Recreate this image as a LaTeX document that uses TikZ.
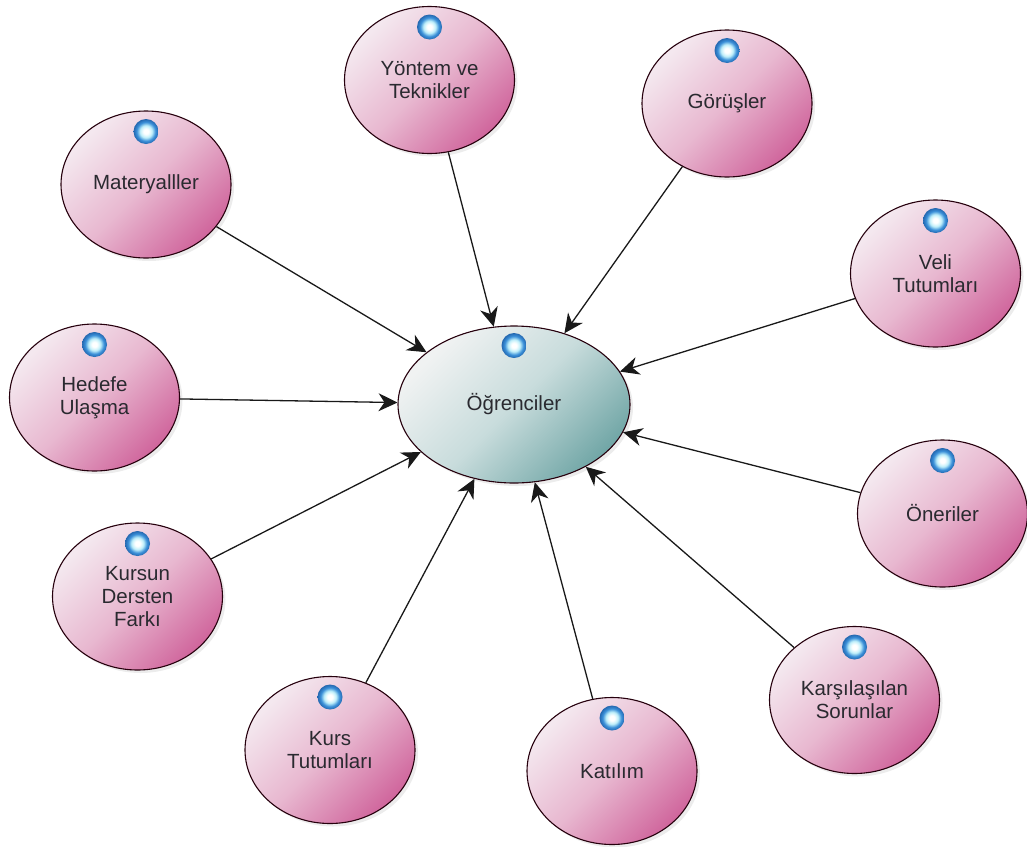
\documentclass[tikz,border=0pt]{standalone}
\usepackage{fontspec}
\setmainfont{Liberation Sans}
\usetikzlibrary{shapes.geometric,arrows.meta,shadows}
\definecolor{inkdark}{HTML}{2A2A30}
\definecolor{HTMLpA}{HTML}{F4E8EF}
\definecolor{HTMLpB}{HTML}{E8B8D0}
\definecolor{HTMLpC}{HTML}{CB5592}
\definecolor{HTMLtA}{HTML}{F0F2F2}
\definecolor{HTMLtB}{HTML}{C8DCDC}
\definecolor{HTMLtC}{HTML}{5A9898}
\definecolor{dotA}{HTML}{BFEFFA}
\definecolor{dotB}{HTML}{3A8FD8}
\definecolor{dotC}{HTML}{2468B0}
\pgfdeclarehorizontalshading{pinkgrad}{100bp}{color(0bp)=(HTMLpA);color(26bp)=(HTMLpA);color(50bp)=(HTMLpB);color(80bp)=(HTMLpC);color(100bp)=(HTMLpC)}
\pgfdeclarehorizontalshading{tealgrad}{100bp}{color(0bp)=(HTMLtA);color(26bp)=(HTMLtA);color(50bp)=(HTMLtB);color(82bp)=(HTMLtC);color(100bp)=(HTMLtC)}
\pgfdeclareradialshading{bluedot}{\pgfpoint{0bp}{0bp}}{color(0bp)=(white);color(5bp)=(white);color(12bp)=(dotA);color(19bp)=(dotB);color(25bp)=(dotC);color(50bp)=(dotC)}
\tikzset{
  x=1pt,y=-1pt,
  topic/.style={ellipse,draw=black!80!purple,line width=1.1pt,inner sep=0pt,minimum width=170pt,minimum height=147pt,
    shading=pinkgrad,shading angle=-45,align=center,text=inkdark,font=\fontsize{20.5}{23}\selectfont,
    drop shadow={opacity=.15,shadow xshift=3pt,shadow yshift=-3pt}},
  hub/.style={topic,shading=tealgrad,minimum width=232pt,minimum height=157pt},
  dot/.style={circle,inner sep=0pt,minimum size=25pt,shading=bluedot},
  link/.style={line width=1.3pt,draw=black!90,-{Stealth[length=19pt,width=18pt,inset=6pt]}},
}
\begin{document}
\begin{tikzpicture}
\useasboundingbox (0,0) rectangle (1027,846);
\node[hub] (hub) at (514,404.5) {Öğrenciler};
\node[topic] (yontem) at (429.5,80) {Yöntem ve\\Teknikler};
\node[topic] (gorus) at (727,103.5) {Görüşler};
\node[topic] (mat) at (146,184.5) {Materyalller};
\node[topic] (veli) at (935.5,273.5) {Veli\\Tutumları};
\node[topic] (hedef) at (94.5,397.5) {Hedefe\\Ulaşma};
\node[topic] (oner) at (942.5,513.5) {Öneriler};
\node[topic] (fark) at (137.5,596.5) {Kursun\\Dersten\\Farkı};
\node[topic] (kurs) at (330,750) {Kurs\\Tutumları};
\node[topic] (kat) at (612,771) {Katılım};
\node[topic] (sorun) at (854.5,700) {Karşılaşılan\\Sorunlar};
\foreach \n in {yontem,gorus,mat,veli,hedef,oner,fark,kurs,kat,sorun}{
  \draw[link] (\n) -- (hub);
  \node[dot] (dot-\n) at ([yshift=53pt]\n.center) {};
}
\node[dot] (dot-hub) at ([yshift=59pt]hub.center) {};
\end{tikzpicture}
\end{document}
